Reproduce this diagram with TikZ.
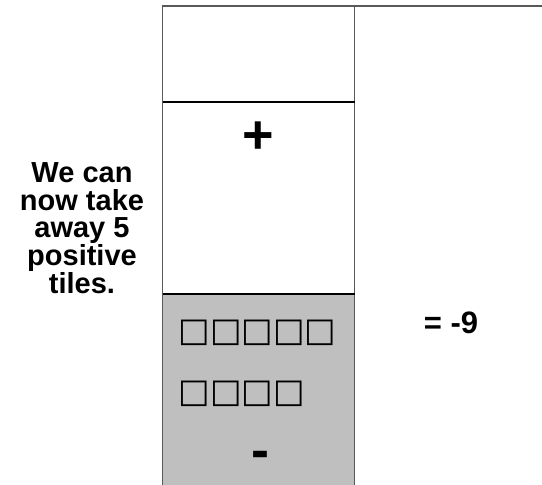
\documentclass[tikz,border=0pt]{standalone}
\usepackage{fontspec}
\setmainfont{Liberation Sans}
\newfontfamily\boxfont{DejaVu Sans}

\begin{document}
\begin{tikzpicture}[x=1pt,y=-1pt,
  rule/.style={draw=black!65, line width=1.6pt},
  split/.style={draw=black, line width=1.2pt},
  words/.style={font=\bfseries\fontsize{29}{27.7}\selectfont, align=center, inner sep=0pt},
  sign/.style={font=\bfseries\fontsize{54}{54}\selectfont, inner sep=0pt, anchor=base},
  tiles/.style={font=\boxfont\fontsize{33.4}{33.4}\selectfont, inner sep=0pt}]
\useasboundingbox (0,0) rectangle (542,485);

% negative zone
\fill[black!25] (162.5,294) rectangle (354.5,485);

% table lines
\draw[rule] (162.5,485) -- (162.5,6) -- (542,6);
\draw[rule] (354.5,6) -- (354.5,485);
\draw[split] (162.5,102) -- (354.5,102);
\draw[split] (162.5,294) -- (354.5,294);

\node[words] (note) at (82,228) {We can\\now take\\away 5\\positive\\tiles.};
\node[words, font=\bfseries\fontsize{31}{31}\selectfont, anchor=base] (total) at (451,333) {= -9};

\node[sign] (plus) at (258.5,153) {+};
\node[sign] (minus) at (260.5,468) {-};

\node[tiles] (row1) at (257.5,332.5) {□□□□□};
\node[tiles] (row2) at (241.7,394) {□□□□};

\end{tikzpicture}
\end{document}
